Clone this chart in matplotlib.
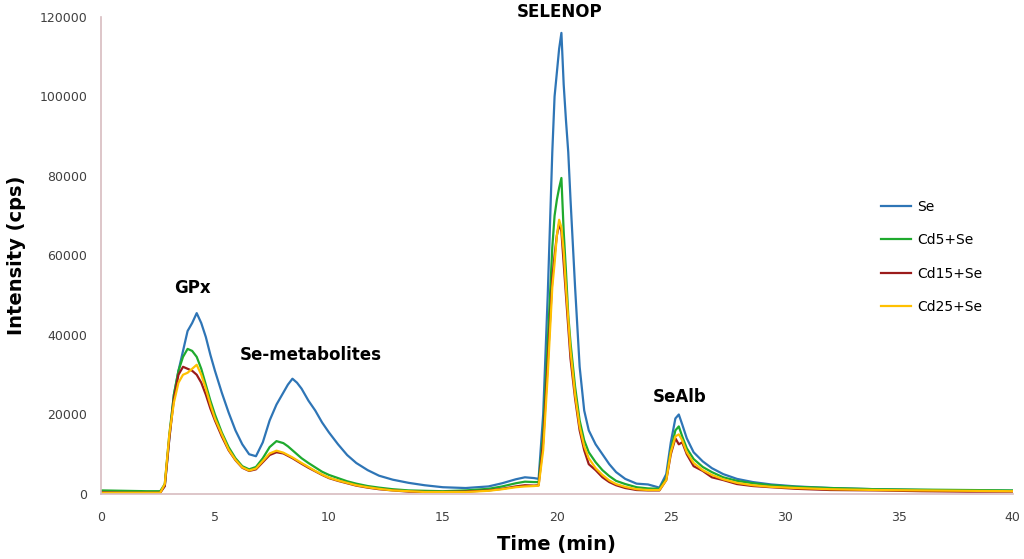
import matplotlib.pyplot as plt
import numpy as np

# 保留时间 (min)
t = [0, 1, 2, 2.6, 2.8, 3.0, 3.2, 3.4, 3.6, 3.8, 4.0, 4.2, 4.4, 4.6, 4.8, 5.0,
     5.3, 5.6, 5.9, 6.2, 6.5, 6.8, 7.1, 7.4, 7.7, 8.0, 8.2, 8.4, 8.6, 8.8,
     9.1, 9.4, 9.7, 10.0, 10.4, 10.8, 11.2, 11.7, 12.2, 12.8, 13.5, 14.2,
     15, 16, 17, 17.6, 18.2, 18.6, 19.0, 19.2, 19.4, 19.6, 19.8, 19.9, 20.0,
     20.1, 20.2, 20.3, 20.4, 20.5, 20.6, 20.8, 21.0, 21.2, 21.4, 21.7, 22.0,
     22.3, 22.6, 23.0, 23.5, 24.0, 24.5, 24.8, 25.0, 25.2, 25.35, 25.5, 25.7,
     26.0, 26.4, 26.8, 27.3, 27.9, 28.6, 29.4, 30.5, 32, 34, 36, 38, 40]

se = [600, 500, 400, 500, 2000, 14000, 25000, 31000, 36000, 41000, 43000, 45500,
      43000, 39500, 35000, 31000, 25500, 20500, 16000, 12500, 10000, 9500, 13000,
      18500, 22500, 25500, 27500, 29000, 28000, 26500, 23500, 21000, 18000, 15500,
      12500, 9800, 7800, 6000, 4600, 3600, 2800, 2200, 1700, 1500, 1900, 2700,
      3700, 4200, 4000, 3800, 20000, 50000, 86000, 100000, 106000, 112000, 116000,
      103000, 94000, 86000, 74000, 52000, 32000, 21000, 16000, 12500, 10000, 7500,
      5500, 3800, 2600, 2400, 1600, 5000, 13000, 19000, 20000, 17500, 14000, 10500,
      8200, 6500, 5000, 3800, 3000, 2400, 1900, 1500, 1200, 1000, 900, 800]

cd5 = [900, 800, 700, 700, 2500, 15000, 25000, 31000, 34500, 36500, 36000, 34500,
       31500, 27500, 23500, 20000, 15500, 11800, 9000, 7000, 6200, 6800, 9000,
       11800, 13300, 12800, 12000, 11000, 10000, 9000, 7800, 6700, 5600, 4800,
       4000, 3200, 2600, 2000, 1600, 1200, 900, 800, 700, 900, 1300, 1900, 2700,
       3100, 3000, 3000, 15000, 38000, 62000, 70000, 74000, 77000, 79500, 66000,
       56000, 45000, 38000, 27000, 18500, 13500, 10500, 8000, 6000, 4500, 3300,
       2500, 1700, 1400, 1300, 4000, 11000, 16000, 17000, 14500, 11500, 8800, 6800,
       5500, 4200, 3300, 2700, 2200, 1800, 1500, 1200, 1100, 1000, 900]

cd15 = [400, 300, 300, 300, 2000, 14000, 24000, 30000, 32000, 31500, 31000, 30000,
        28000, 25000, 21500, 18500, 14500, 11000, 8500, 6600, 5800, 6200, 8000,
        9800, 10500, 10200, 9600, 9000, 8300, 7600, 6600, 5700, 4800, 4000, 3300,
        2700, 2100, 1600, 1200, 900, 600, 500, 500, 600, 900, 1300, 1900, 2200,
        2100, 2200, 13000, 33000, 54000, 60000, 65000, 68000, 66000, 58000, 50000,
        42000, 34000, 24000, 16000, 11000, 7500, 6000, 4200, 3000, 2200, 1500, 1000,
        900, 900, 3500, 10000, 14000, 12500, 13000, 10000, 7000, 5800, 4200, 3500,
        2500, 2000, 1700, 1300, 1000, 900, 700, 600, 600]

cd25 = [300, 300, 300, 300, 2500, 15000, 23000, 28000, 30000, 30500, 31500, 32500,
        30000, 26500, 22500, 19000, 15000, 11200, 8600, 6700, 5900, 6400, 8300,
        10200, 10900, 10400, 9800, 9200, 8500, 7800, 6800, 5800, 4900, 4100, 3400,
        2800, 2200, 1700, 1300, 900, 700, 500, 500, 500, 800, 1200, 1700, 1900,
        2000, 2100, 11000, 30000, 52000, 58000, 65000, 69000, 67000, 61000, 52000,
        44000, 36000, 25000, 17000, 12000, 9000, 6500, 4800, 3400, 2500, 1800, 1200,
        1000, 1000, 3500, 10500, 14500, 15000, 13500, 10500, 7800, 6000, 4800, 3700,
        2800, 2200, 1800, 1500, 1200, 1000, 900, 800, 700]

labels = ["Se", "Cd5+Se", "Cd15+Se", "Cd25+Se"]
colors = ["#2E75B6", "#1FAA2E", "#9B1B1B", "#FFC000"]

fig = plt.figure(figsize=(10.24, 5.59), dpi=100)
ax = fig.add_axes([0.0986, 0.1163, 0.8904, 0.8533])

for y, lab, c in zip([se, cd5, cd15, cd25], labels, colors):
    ax.plot(t, y, color=c, lw=1.6, label=lab)

ax.set_xlim(0, 40)
ax.set_ylim(0, 120000)
ax.set_xticks(np.arange(0, 41, 5))
ax.set_yticks(np.arange(0, 120001, 20000))
ax.tick_params(length=0, labelsize=9, labelcolor="#404040")
ax.tick_params(axis="x", pad=12)
ax.tick_params(axis="y", pad=10)
for s in ["top", "right"]:
    ax.spines[s].set_visible(False)
for s in ["left", "bottom"]:
    ax.spines[s].set_color("#D8BCC0")
    ax.spines[s].set_linewidth(1.2)

ax.set_xlabel("Time (min)", fontsize=14, fontweight="bold", labelpad=8)
ax.set_ylabel("Intensity (cps)", fontsize=14, fontweight="bold")
ax.yaxis.set_label_coords(-0.082, 0.5)

# 峰的标注
ax.text(4.0, 51800, "GPx", ha="center", va="center", fontsize=12, fontweight="bold")
ax.text(9.2, 35000, "Se-metabolites", ha="center", va="center", fontsize=12, fontweight="bold")
ax.text(20.1, 121200, "SELENOP", ha="center", va="center", fontsize=12, fontweight="bold", clip_on=False)
ax.text(25.4, 24400, "SeAlb", ha="center", va="center", fontsize=12, fontweight="bold")

ax.legend(loc="upper left", bbox_to_anchor=(0.848, 0.665), bbox_transform=fig.transFigure,
          frameon=False, fontsize=10, handlelength=2.2, labelspacing=1.4, handletextpad=0.4)

plt.savefig("out.png", dpi=100)
